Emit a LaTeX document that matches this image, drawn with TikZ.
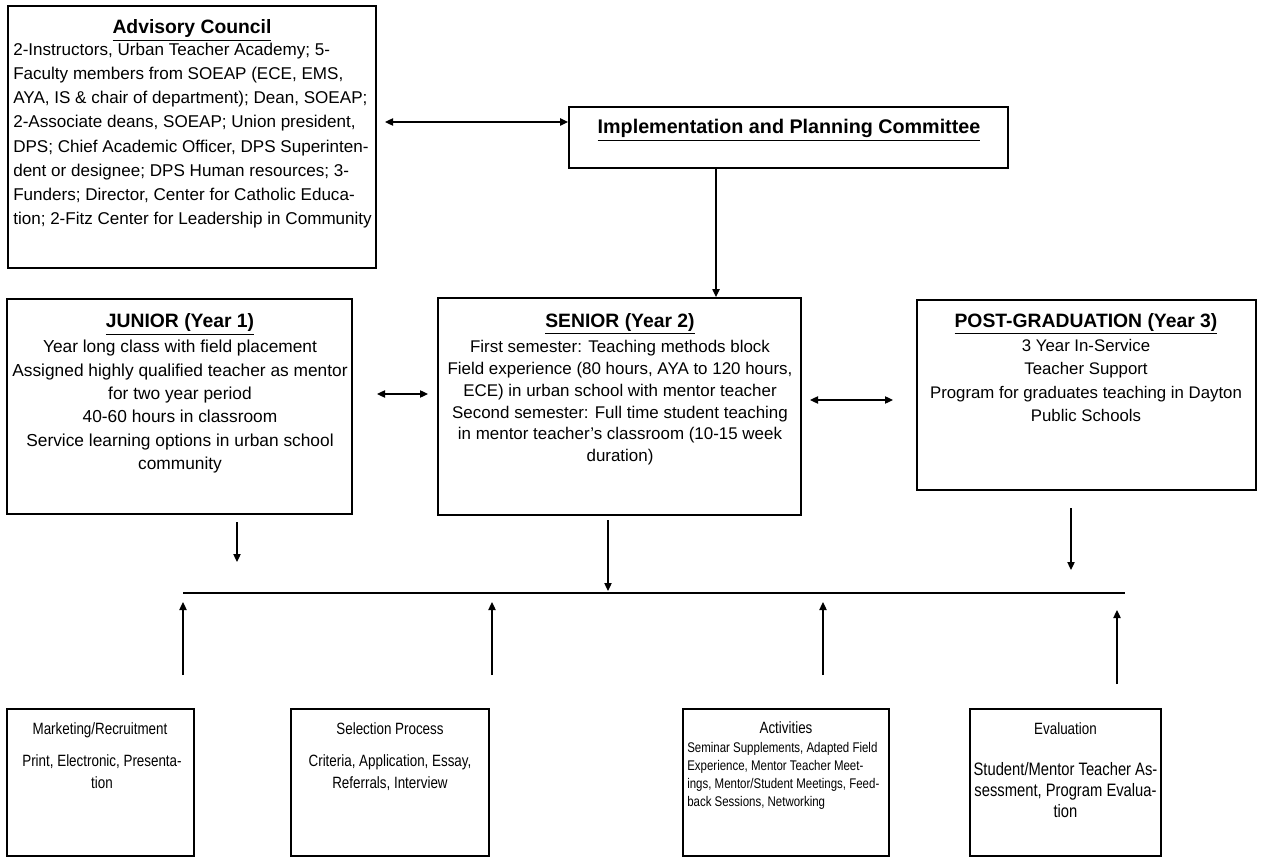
\documentclass[tikz,border=0pt]{standalone}
\usepackage{fontspec}
\setmainfont{Liberation Sans}
\newfontfamily\narrowf{Liberation Sans}[FakeStretch=0.82]
\usetikzlibrary{arrows.meta,fit}
\begin{document}
\begin{tikzpicture}[x=0.75pt,y=-0.75pt,
  box/.style={draw, line width=1.4pt, inner sep=0pt},
  txt/.style={inner sep=0pt, align=center, anchor=base},
  ltxt/.style={inner sep=0pt, align=left, anchor=base west},
  ttl/.style={font=\bfseries\fontsize{14.5}{16}\selectfont},
  arr/.style={line width=0.9pt, -{Triangle[length=6pt,width=5.5pt]}},
  darr/.style={line width=0.9pt, {Triangle[length=6pt,width=5.5pt]}-{Triangle[length=6pt,width=5.5pt]}},
  plain/.style={line width=0.9pt}]
\useasboundingbox (0,0) rectangle (1285,859);
\fill[white] (0,0) rectangle (1285,859);

% boxes
\node[box, fit={(8,6) (376,268)}] (adv) {};
\node[box, fit={(569,107) (1008,168)}] (imp) {};
\node[box, fit={(7,299) (352,514)}] (jun) {};
\node[box, fit={(438,298) (801,515)}] (sen) {};
\node[box, fit={(917,300) (1256,490)}] (post) {};
\node[box, fit={(7,709) (194,856)}] (mkt) {};
\node[box, fit={(291,709) (489,856)}] (sel) {};
\node[box, fit={(683,709) (889,856)}] (act) {};
\node[box, fit={(970,709) (1161,856)}] (eva) {};

% advisory council (multi-line nodes: base = last line)
\node[txt, ttl] (advt) at (192,34) {\underline{Advisory Council}};
\node[ltxt, font=\fontsize{12.8}{18.2}\selectfont] (advb) at (13,225) {2-Instructors, Urban Teacher Academy; 5-\\
Faculty members from SOEAP (ECE, EMS,\\
AYA, IS \& chair of department); Dean, SOEAP;\\
2-Associate deans, SOEAP; Union president,\\
DPS; Chief Academic Officer, DPS Superinten-\\
dent or designee; DPS Human resources; 3-\\
Funders; Director, Center for Catholic Educa-\\
tion; 2-Fitz Center for Leadership in Community};

% implementation
\node[txt, font=\bfseries\fontsize{14.8}{16}\selectfont] (impt) at (789,134) {\underline{Implementation and Planning Committee}};

% junior
\node[txt, ttl] (junt) at (180,328) {\underline{JUNIOR (Year 1)}};
\node[txt, font=\fontsize{13}{17.5}\selectfont] (junb) at (180,469.5) {Year long class with field placement\\
Assigned highly qualified teacher as mentor\\
for two year period\\
40-60 hours in classroom\\
Service learning options in urban school\\
community};

% senior
\node[txt, ttl] (sent) at (620,327) {\underline{SENIOR (Year 2)}};
\node[txt, font=\fontsize{12.7}{16.3}\selectfont] (senb) at (620,461.5) {First semester: Teaching methods block\\
Field experience (80 hours, AYA to 120 hours,\\
ECE) in urban school with mentor teacher\\
Second semester: Full time student teaching\\
in mentor teacher’s classroom (10-15 week\\
duration)};

% post graduation
\node[txt, ttl] (postt) at (1086,327) {\underline{POST-GRADUATION (Year 3)}};
\node[txt, font=\fontsize{12.6}{17.6}\selectfont] (postb) at (1086,421.5) {3 Year In-Service\\
Teacher Support\\
Program for graduates teaching in Dayton\\
Public Schools};

% bottom boxes
\node[txt, font=\narrowf\fontsize{12.25}{15}\selectfont] (mktt) at (100,734) {Marketing/Recruitment};
\node[txt, font=\narrowf\fontsize{12.25}{16.5}\selectfont] (mktb) at (102,788) {Print, Electronic, Presenta-\\tion};
\node[txt, font=\narrowf\fontsize{12.25}{15}\selectfont] (selt) at (390,734) {Selection Process};
\node[txt, font=\narrowf\fontsize{12.25}{16.5}\selectfont] (selb) at (390,788) {Criteria, Application, Essay,\\Referrals, Interview};
\node[txt, font=\narrowf\fontsize{12.25}{15}\selectfont] (actt) at (786,733) {Activities};
\node[ltxt, font=\narrowf\fontsize{10.5}{13.5}\selectfont] (actb) at (687,806) {Seminar Supplements, Adapted Field\\
Experience, Mentor Teacher Meet-\\
ings, Mentor/Student Meetings, Feed-\\
back Sessions, Networking};
\node[txt, font=\narrowf\fontsize{12.25}{15}\selectfont] (evat) at (1065.5,734) {Evaluation};
\node[txt, font=\narrowf\fontsize{13.5}{15.75}\selectfont] (evab) at (1065.5,817) {Student/Mentor Teacher As-\\
sessment, Program Evalua-\\
tion};

% connectors top
\coordinate (advr) at (385,122);
\draw[darr] (advr) -- (imp.west |- advr);
\coordinate (impx) at (716,0);
\draw[arr] (imp.south -| impx) -- (sen.north -| impx);
\coordinate (js1) at (377,394);
\coordinate (js2) at (428,394);
\draw[darr] (js1) -- (js2);
\coordinate (sp1) at (810,400);
\coordinate (sp2) at (893,400);
\draw[darr] (sp1) -- (sp2);

% horizontal bar
\coordinate (hl) at (183,593);
\coordinate (hr) at (1125,593);
\draw[plain] (hl) -- (hr);

% down arrows
\coordinate (jd1) at (237,522);
\coordinate (jd2) at (237,562);
\draw[arr] (jd1) -- (jd2);
\coordinate (sd1) at (608,520);
\coordinate (sd2) at (608,591);
\draw[arr] (sd1) -- (sd2);
\coordinate (pd1) at (1071,508);
\coordinate (pd2) at (1071,570);
\draw[arr] (pd1) -- (pd2);

% up arrows
\coordinate (mu1) at (183,675);
\coordinate (mu2) at (183,602);
\draw[arr] (mu1) -- (mu2);
\coordinate (su1) at (492,675);
\coordinate (su2) at (492,602);
\draw[arr] (su1) -- (su2);
\coordinate (au1) at (823,675);
\coordinate (au2) at (823,602);
\draw[arr] (au1) -- (au2);
\coordinate (eu1) at (1117,684);
\coordinate (eu2) at (1117,610);
\draw[arr] (eu1) -- (eu2);
\end{tikzpicture}
\end{document}
